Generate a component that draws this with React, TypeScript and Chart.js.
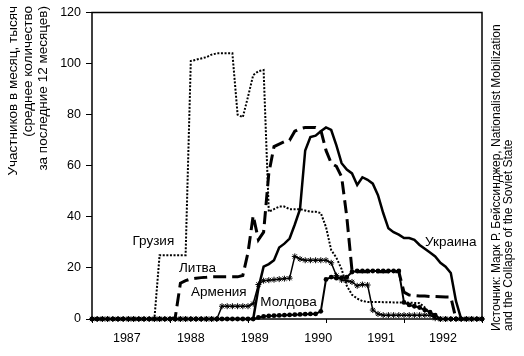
import React, { useEffect, useRef } from 'react';
import { Chart, registerables } from 'chart.js';

Chart.register(...registerables);

const FONT = '"Liberation Sans", Arial, Helvetica, sans-serif';

// months since Jan 1987 (category positions on the time axis)
const monthIndex = Array.from({ length: 76 }, (_, i) => i);

const yearLabels = ['1987', '1988', '1989', '1990', '1991', '1992'];
const yearLabelValues = [6.7, 19.0, 31.3, 43.5, 55.6, 67.5];
const xTickMarkValues = [0, 15, 30, 45, 60, 75];

const georgia = [
  0, 0, 0, 0, 0, 0, 0, 0, 0, 0, 0, 0,
  0, 25, 25, 25, 25, 25, 25,
  101, 101.5, 102, 102.5, 103.5, 104, 104, 104, 104, 80, 79, 87, 95.5, 97, 97.5,
  42, 43, 44, 44, 43, 43, 43, 42.5, 42, 42, 41.5, 36, 27, 24, 19.5, 13, 9.5, 8, 7,
  6.7, 6.7, 6.7, 6.6, 6.6, 6.5, 6.5, 6.5, 6.4, 6.3,
  6.2, 4.5, 2.3, 0.8,
  0, 0, 0, 0, 0, 0, 0, 0, 0,
];

const lithuania = [
  0, 0, 0, 0, 0, 0, 0, 0, 0, 0, 0, 0, 0, 0, 0, 0,
  0.5, 14,
  15, 15.7, 16, 16.2, 16.3, 16.5,
  16.5, 16.5, 16.5, 16.5, 16.5,
  17, 26, 40.5, 31, 34, 57, 67.5, 68.5, 69.4, 70, 73.5, 74.5, 75, 75, 75, 74, 66, 61, 59.8, 55.7, 40, 19,
  18.5, 18.5, 18.5, 18.5, 18.5, 18.5, 18.5, 18.5, 18.5,
  10.5, 9.4,
  9.2, 9, 9, 8.8, 8.8, 8.7, 8.6,
  8.6,
  0, 0, 0, 0, 0, 0,
];

const armenia = [
  0, 0, 0, 0, 0, 0, 0, 0, 0, 0, 0, 0, 0, 0, 0, 0, 0, 0, 0, 0, 0, 0, 0, 0, 0,
  5, 5, 5, 5, 5, 5,
  6, 13.5, 15, 15.2, 15.4, 15.6, 15.8, 16, 24.5, 23.5, 23, 23, 23, 23, 23,
  22, 17, 15.3, 15, 14.5, 13, 13.5, 13.3, 3.5, 2,
  1.5, 1.5, 1.5, 1.5, 1.5, 1.5, 1.5, 1.5, 1.5, 1.5,
  0.3,
  0, 0, 0, 0, 0, 0, 0, 0, 0,
];

const moldova = [
  0, 0, 0, 0, 0, 0, 0, 0, 0, 0, 0, 0, 0, 0, 0, 0,
  0, 0, 0, 0, 0, 0, 0, 0, 0, 0, 0, 0, 0, 0, 0, 0,
  0.6, 1, 1.2, 1.3, 1.4, 1.5, 1.6, 1.7, 1.8, 1.9, 2, 2, 3, 15.5, 16.4, 16, 16.2, 16.4, 18.4,
  18.8, 18.8, 18.8, 18.8, 18.8, 18.8, 18.8, 18.8, 18.8,
  6.5, 5.5, 5, 4.5, 3.5, 2.7, 1.5,
  0, 0, 0, 0, 0, 0, 0, 0, 0,
];

const ukraine = [
  0, 0, 0, 0, 0, 0, 0, 0, 0, 0, 0, 0, 0, 0, 0, 0,
  0, 0, 0, 0, 0, 0, 0, 0, 0, 0, 0, 0, 0, 0, 0,
  0, 12, 20.5, 21.5, 23, 28, 29.5, 31.5, 37, 43, 66, 71.2, 71.8, 73.5, 75, 74, 68, 61, 58.5, 57,
  52.5, 55.5, 54.5, 53, 48.5, 41.5, 35.5, 34, 33, 31.7, 31.7, 31, 29, 27.5, 26, 24.5, 22, 20.5, 18, 7,
  0, 0, 0, 0, 0,
];

const seriesNames = ['Грузия', 'Литва', 'Армения', 'Молдова', 'Украина'];
const seriesLabelX = [11.8, 20.3, 24.4, 37.8, 69.0];
const seriesLabelY = [30.6, 20.0, 10.4, 6.5, 30.0];

const yAxisTitle = ['Участников в месяц, тысяч', '(среднее количество', 'за последние 12 месяцев)'];
const sourceLines = ['Источник: Марк Р. Бейссинджер, Nationalist Mobilization', 'and the Collapse of the Soviet State'];

export default function App() {
  const ref = useRef<HTMLCanvasElement>(null);

  useEffect(() => {
    const canvas = ref.current;
    if (!canvas) return;
    const toPts = (arr: number[]) => arr.map((v, i) => ({ x: monthIndex[i], y: v }));

    const overlay = {
      id: 'overlay',
      afterDatasetsDraw(chart: any) {
        const { ctx, chartArea } = chart;
        const xs = chart.scales.x;
        const ys = chart.scales.y;
        ctx.save();
        ctx.strokeStyle = '#000';
        ctx.fillStyle = '#000';
        // frame
        ctx.lineWidth = 1.5;
        ctx.strokeRect(chartArea.left, chartArea.top, chartArea.right - chartArea.left, chartArea.bottom - chartArea.top);
        // x tick marks
        ctx.lineWidth = 1;
        xTickMarkValues.forEach((v) => {
          const px = Math.round(xs.getPixelForValue(v)) + 0.5;
          ctx.beginPath();
          ctx.moveTo(px, chartArea.bottom);
          ctx.lineTo(px, chartArea.bottom + 4);
          ctx.stroke();
        });
        // series labels
        ctx.font = `13.5px ${FONT}`;
        ctx.textAlign = 'center';
        ctx.textBaseline = 'middle';
        seriesNames.forEach((name, i) => {
          ctx.fillText(name, xs.getPixelForValue(seriesLabelX[i]), ys.getPixelForValue(seriesLabelY[i]));
        });
        // y axis title (rotated)
        ctx.font = `13.5px ${FONT}`;
        const titleX = [13, 28, 43];
        yAxisTitle.forEach((line, i) => {
          ctx.save();
          ctx.translate(titleX[i], 6);
          ctx.rotate(-Math.PI / 2);
          ctx.textAlign = 'right';
          ctx.textBaseline = 'middle';
          ctx.fillText(line, 0, 0);
          ctx.restore();
        });
        // source text (rotated)
        ctx.font = `12px ${FONT}`;
        const srcX = [497, 509];
        sourceLines.forEach((line, i) => {
          ctx.save();
          ctx.translate(srcX[i], 331);
          ctx.rotate(-Math.PI / 2);
          ctx.textAlign = 'left';
          ctx.textBaseline = 'middle';
          ctx.fillText(line, 0, 0);
          ctx.restore();
        });
        ctx.restore();
      },
    };

    const chart = new Chart(canvas, {
      type: 'line',
      data: {
        datasets: [
          {
            label: seriesNames[4],
            data: toPts(ukraine),
            borderColor: '#000',
            borderWidth: 2.5,
            pointRadius: 0,
            tension: 0,
            clip: false as any,
          },
          {
            label: seriesNames[3],
            data: toPts(moldova),
            borderColor: '#000',
            backgroundColor: '#000',
            borderWidth: 2,
            pointRadius: 2.4,
            pointStyle: 'circle',
            pointBackgroundColor: '#000',
            pointBorderColor: '#000',
            pointBorderWidth: 0,
            tension: 0,
            clip: false as any,
          },
          {
            label: seriesNames[2],
            data: toPts(armenia),
            borderColor: '#000',
            borderWidth: 1.5,
            pointRadius: 3,
            pointStyle: 'star',
            pointBorderColor: '#000',
            pointBorderWidth: 1,
            tension: 0,
            clip: false as any,
          },
          {
            label: seriesNames[1],
            data: toPts(lithuania),
            borderColor: '#000',
            borderWidth: 3,
            borderDash: [13, 6],
            pointRadius: 0,
            tension: 0,
            clip: false as any,
          },
          {
            label: seriesNames[0],
            data: toPts(georgia),
            borderColor: '#000',
            borderWidth: 2,
            borderDash: [2, 1.6],
            pointRadius: 0,
            tension: 0,
            clip: false as any,
          },
        ],
      },
      options: {
        animation: false,
        responsive: false,
        layout: { padding: { top: 12, right: 42, left: 0, bottom: 0 } },
        plugins: { legend: { display: false }, tooltip: { enabled: false } },
        scales: {
          x: {
            type: 'linear',
            min: 0,
            max: 75,
            afterBuildTicks: (s: any) => {
              s.ticks = yearLabelValues.map((v) => ({ value: v }));
            },
            afterFit: (s: any) => {
              s.height = 37;
            },
            ticks: {
              autoSkip: false,
              maxRotation: 0,
              padding: 12,
              color: '#000',
              font: { family: FONT, size: 12.5 },
              callback: (_v: any, i: number) => yearLabels[i],
            },
            grid: { display: false, drawTicks: false },
            border: { display: false },
          },
          y: {
            min: 0,
            max: 120,
            afterFit: (s: any) => {
              s.width = 92;
            },
            ticks: {
              stepSize: 20,
              padding: 5,
              color: '#000',
              font: { family: FONT, size: 12.5 },
            },
            grid: { drawOnChartArea: false, tickLength: 6, color: '#000', lineWidth: 1 },
            border: { display: false },
          },
        },
      },
      plugins: [overlay],
    } as any);

    return () => chart.destroy();
  }, []);

  return (
    <div style={{ position: 'absolute', left: 0, top: 0, width: 524, height: 356, background: '#fff' }}>
      <canvas ref={ref} width={524} height={356} style={{ display: 'block', width: 524, height: 356 }} />
    </div>
  );
}
